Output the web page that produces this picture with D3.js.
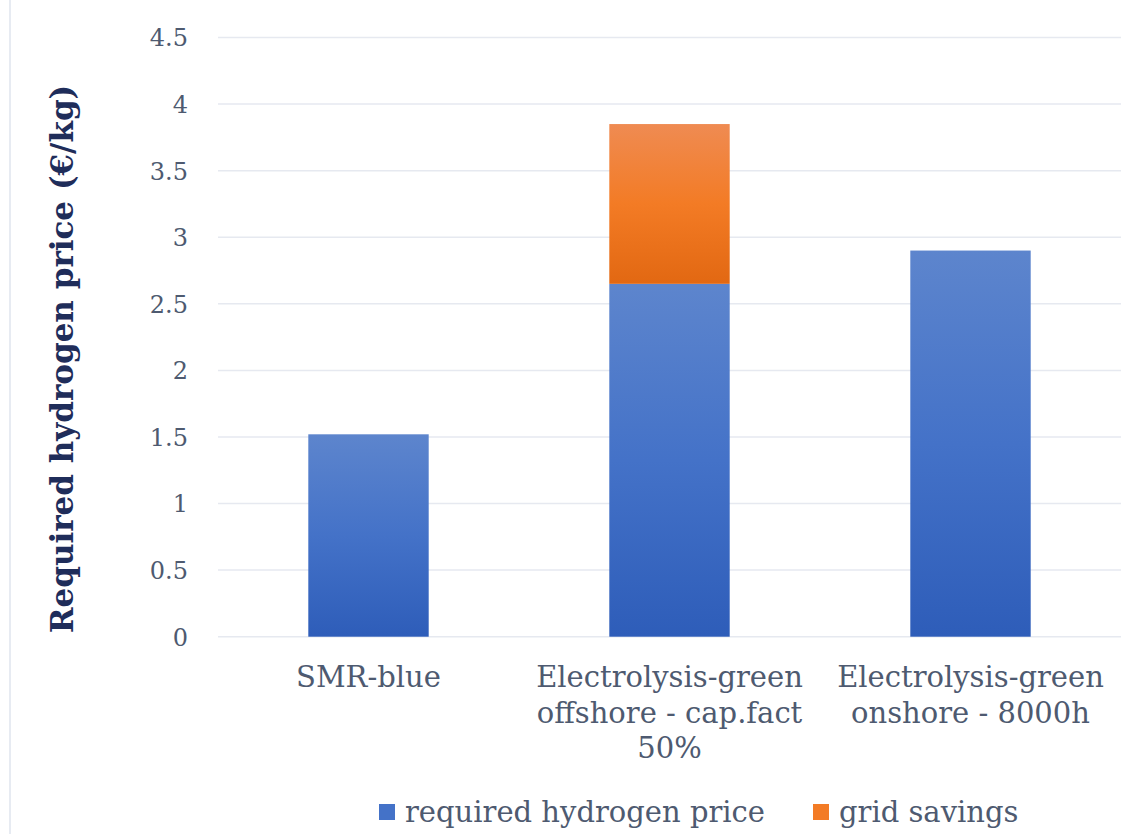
<!DOCTYPE html>
<html>
<head>
<meta charset="utf-8">
<script src="https://cdn.jsdelivr.net/npm/d3@7"></script>
<style>
  html, body { margin: 0; padding: 0; background: #ffffff; }
  svg { display: block; }
</style>
</head>
<body>
<svg id="chart" width="1130" height="834"></svg>
<script>
// Required hydrogen price by production route (€/kg)
const categories = [
  "SMR-blue",
  "Electrolysis-green offshore - cap.fact 50%",
  "Electrolysis-green onshore - 8000h"
];
const requiredPrice = [1.52, 2.65, 2.90];
const gridSavings = [0, 1.20, 0];
const seriesNames = ["required hydrogen price", "grid savings"];
const yTicks = [0, 0.5, 1, 1.5, 2, 2.5, 3, 3.5, 4, 4.5];
const yTickLabels = ["0", "0.5", "1", "1.5", "2", "2.5", "3", "3.5", "4", "4.5"];

const FONT = "'DejaVu Serif', 'Liberation Serif', serif";
const textColor = "#4e5a70";
const titleColor = "#1f2d5a";

const svg = d3.select("#chart");
const margin = { left: 218, right: 1121, top: 37.5, bottom: 636.7 };

const x = d3.scaleBand()
  .domain(categories)
  .range([margin.left, margin.right])
  .paddingInner(0.6)
  .paddingOuter(0.3);

const y = d3.scaleLinear()
  .domain([0, 4.5])
  .range([margin.bottom, margin.top]);

// Gradients for the bar fills
const defs = svg.append("defs");
function gradient(id, stops) {
  const g = defs.append("linearGradient")
    .attr("id", id).attr("x1", 0).attr("y1", 0).attr("x2", 0).attr("y2", 1);
  stops.forEach(([o, c]) => g.append("stop").attr("offset", o).attr("stop-color", c));
}
gradient("gradBlue", [[0, "#5d85cd"], [0.5, "#4472c8"], [1, "#2e5db9"]]);
gradient("gradOrange", [[0, "#ef8b52"], [0.5, "#f37b25"], [1, "#e26812"]]);

// Chart frame edge on the left
svg.append("line")
  .attr("x1", 10).attr("x2", 10).attr("y1", 0).attr("y2", 834)
  .attr("stroke", "#dfe4ee").attr("stroke-width", 1.5);

// Horizontal gridlines
svg.append("g")
  .selectAll("line")
  .data(yTicks)
  .join("line")
  .attr("x1", margin.left).attr("x2", margin.right)
  .attr("y1", d => y(d)).attr("y2", d => y(d))
  .attr("stroke", "#e6e9f0").attr("stroke-width", 1.5);

// Y axis tick labels
const yAxis = d3.axisLeft(y)
  .tickValues(yTicks)
  .tickFormat((d, i) => yTickLabels[i])
  .tickSize(0)
  .tickPadding(0);
const yg = svg.append("g")
  .attr("transform", "translate(188,0)")
  .call(yAxis);
yg.select(".domain").remove();
yg.selectAll("text")
  .attr("font-family", FONT)
  .attr("font-size", 24)
  .attr("fill", textColor)
  .attr("dy", "0.35em");

// Y axis title
svg.append("text")
  .attr("transform", `translate(73,${(82 + 636) / 2}) rotate(-90)`)
  .attr("text-anchor", "middle")
  .attr("font-family", FONT)
  .attr("font-weight", "bold")
  .attr("font-size", 31)
  .attr("fill", titleColor)
  .text("Required hydrogen price (€/kg)");

// Stacked bars
const stackData = categories.map((c, i) => ({
  cat: c, base: requiredPrice[i], extra: gridSavings[i]
}));
const bars = svg.append("g");
bars.selectAll("rect.base")
  .data(stackData)
  .join("rect")
  .attr("class", "base")
  .attr("x", d => x(d.cat))
  .attr("width", x.bandwidth())
  .attr("y", d => y(d.base))
  .attr("height", d => y(0) - y(d.base))
  .attr("fill", "url(#gradBlue)");
bars.selectAll("rect.extra")
  .data(stackData.filter(d => d.extra > 0))
  .join("rect")
  .attr("class", "extra")
  .attr("x", d => x(d.cat))
  .attr("width", x.bandwidth())
  .attr("y", d => y(d.base + d.extra))
  .attr("height", d => y(d.base) - y(d.base + d.extra))
  .attr("fill", "url(#gradOrange)");

// Category labels, wrapped to the band step
const labelSize = 29;
const labelG = svg.append("g")
  .attr("font-family", FONT)
  .attr("font-size", labelSize)
  .attr("fill", textColor)
  .attr("text-anchor", "middle");

function wrapLines(text, maxWidth) {
  const probe = labelG.append("text").attr("visibility", "hidden");
  const words = text.split(" ");
  const lines = [];
  let cur = "";
  words.forEach(w => {
    const test = cur ? cur + " " + w : w;
    probe.text(test);
    if (probe.node().getComputedTextLength() > maxWidth && cur) {
      lines.push(cur);
      cur = w;
    } else {
      cur = test;
    }
  });
  if (cur) lines.push(cur);
  probe.remove();
  return lines;
}

categories.forEach(c => {
  const lines = wrapLines(c, x.step() - 12);
  const t = labelG.append("text")
    .attr("x", x(c) + x.bandwidth() / 2)
    .attr("y", 687);
  lines.forEach((ln, i) => {
    t.append("tspan")
      .attr("x", x(c) + x.bandwidth() / 2)
      .attr("dy", i === 0 ? 0 : 35.5)
      .text(ln);
  });
});

// Legend
const legendColors = ["#4472c8", "#f37b25"];
const legendX = [379, 813];
const legend = svg.append("g")
  .attr("font-family", FONT)
  .attr("font-size", labelSize)
  .attr("fill", textColor);
seriesNames.forEach((name, i) => {
  legend.append("rect")
    .attr("x", legendX[i]).attr("y", 804)
    .attr("width", 16).attr("height", 16)
    .attr("fill", legendColors[i]);
  legend.append("text")
    .attr("x", legendX[i] + 26).attr("y", 822)
    .text(name);
});
</script>
</body>
</html>
